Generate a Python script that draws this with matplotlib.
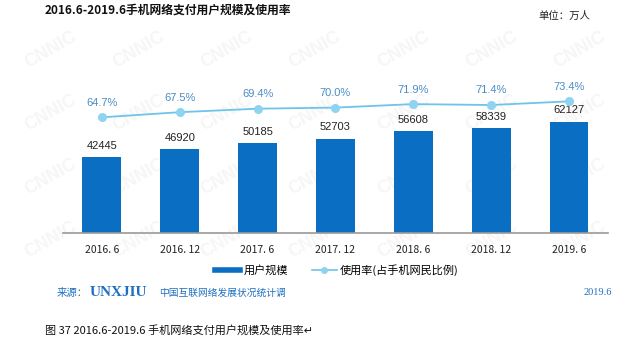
import matplotlib
matplotlib.use("Agg")
import matplotlib.pyplot as plt
from matplotlib.lines import Line2D

plt.rcParams['font.family'] = ['Noto Sans CJK SC', 'DejaVu Sans']

categories = ["2016. 6", "2016. 12", "2017. 6", "2017. 12", "2018. 6", "2018. 12", "2019. 6"]
users = [42445, 46920, 50185, 52703, 56608, 58339, 62127]
rate = [64.7, 67.5, 69.4, 70.0, 71.9, 71.4, 73.4]

bar_color = "#0A6EC2"
line_color = "#6EC4EA"
marker_color = "#8FD3F2"
pct_color = "#4A8DC6"

fig = plt.figure(figsize=(6.3, 3.53), dpi=100)

# faint watermark behind everything
for wx in [0.08, 0.22, 0.36, 0.50, 0.64, 0.78, 0.92]:
    for wy in [0.32, 0.5, 0.68, 0.86]:
        fig.text(wx, wy, "CNNIC", rotation=30, fontsize=13, color='#f6f6f6',
                 ha='center', va='center', family=['Liberation Sans'], fontweight='bold', zorder=-5)

ax = fig.add_axes([0.1, 0.34, 0.865, 0.518])
ax.patch.set_visible(False)
x = list(range(len(categories)))
ax.bar(x, users, width=0.5, color=bar_color, zorder=2)
ax.set_xlim(-0.5, len(categories) - 0.5)
ax.set_ylim(0, 102000)
for xi, v in zip(x, users):
    ax.text(xi, v + 3500, f"{v}", ha='center', va='bottom', fontsize=8,
            family=['Liberation Sans', 'DejaVu Sans'], color='#222222')
for s in ['top', 'right', 'left']:
    ax.spines[s].set_visible(False)
ax.spines['bottom'].set_color('#9a9a9a')
ax.spines['bottom'].set_linewidth(1.2)
ax.set_yticks([])
ax.set_xticks(x)
ax.set_xticklabels(categories, fontsize=7.5, color='#222222')
ax.tick_params(axis='x', length=0, pad=9)

ax2 = ax.twinx()
ax2.patch.set_visible(False)
ax2.plot(x, rate, color=line_color, lw=1.3, marker='o', ms=5.5,
         mfc=marker_color, mec=marker_color, zorder=3)
ax2.set_ylim(1.7, 101.3)
ax2.set_yticks([])
for s in ['top', 'right', 'left', 'bottom']:
    ax2.spines[s].set_visible(False)
for xi, r in zip(x, rate):
    ax2.text(xi, r + 5.2, f"{r:.1f}%", ha='center', va='bottom', fontsize=8,
             family=['Liberation Sans', 'DejaVu Sans'], color=pct_color)

handles = [Line2D([0], [0], color=bar_color, lw=4),
           Line2D([0], [0], color=line_color, lw=1.2, marker='o', ms=4,
                  mfc=marker_color, mec=marker_color)]
fig.legend(handles, ["用户规模", "使用率(占手机网民比例)"], loc='center',
           bbox_to_anchor=(0.535, 0.235), ncol=2, frameon=False, fontsize=8,
           handlelength=2.2, columnspacing=2.2, handletextpad=0.3)

fig.text(0.071, 0.972, "2016.6-2019.6手机网络支付用户规模及使用率", fontsize=8.5,
         fontweight='bold', ha='left', va='center', color='#111111')
fig.text(0.855, 0.955, "单位：万人", fontsize=7.5, ha='left', va='center', color='#222222')

fig.text(0.09, 0.17, "来源：", fontsize=7.5, color='#1F6FC0', ha='left', va='center')
fig.text(0.142, 0.17, "UNXJIU", fontsize=11, color='#1F6FC0', ha='left', va='center',
         family=['Liberation Serif'], fontweight='bold')
fig.text(0.252, 0.17, "中国互联网络发展状况统计调", fontsize=7, color='#1F6FC0', ha='left', va='center')
fig.text(0.972, 0.17, "2019.6", fontsize=7.5, color='#1F6FC0', ha='right', va='center',
         family=['Liberation Serif'])

fig.text(0.071, 0.065, "图 37 2016.6-2019.6 手机网络支付用户规模及使用率↵", fontsize=8,
         ha='left', va='center', color='#111111')

fig.savefig("out.png", dpi=100)
